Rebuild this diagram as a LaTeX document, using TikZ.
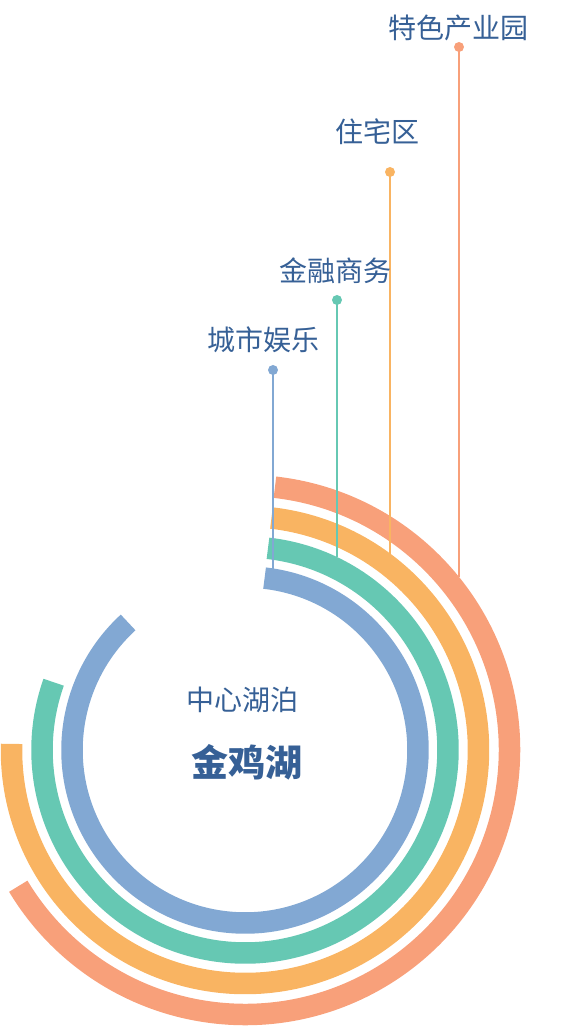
\documentclass[tikz,border=0pt]{standalone}
\usepackage{fontspec}
\newfontfamily\cjk{Noto Sans CJK SC}
\usetikzlibrary{positioning}
\definecolor{ring_blue}{HTML}{82A8D3}
\definecolor{ring_green}{HTML}{66C8B3}
\definecolor{ring_orange}{HTML}{F9B462}
\definecolor{ring_salmon}{HTML}{F8A07A}
\definecolor{label_blue}{RGB}{54,96,150}
\tikzset{
  ring/.style = {line width=21.5pt, line cap=butt},% anneau
  pin_line/.style = {line width=1.6pt},% trait vertical
  pin_dot/.style = {circle, inner sep=0pt, minimum size=10pt},% pastille
  tag/.style = {font=\cjk\fontsize{28}{32}\selectfont, text=label_blue,
    inner sep=0pt},% etiquette
  lake/.style = {font=\cjk\fontsize{28}{32}\selectfont, text=label_blue,
    inner sep=0pt},
  lake_name/.style = {font=\cjk\bfseries\fontsize{37}{40}\selectfont,
    text=label_blue, inner sep=0pt}
}

\begin{document}
\begin{tikzpicture}[x=1pt, y=1pt]
  \useasboundingbox (-245,-278) rectangle (318,750);
  % anneaux
  \draw [ring, ring_salmon] (83.5:264.5) arc[start angle=83.5, end angle=-149, radius=264.5];
  \draw [ring, ring_orange] (83.5:233.5) arc[start angle=83.5, end angle=-181.5, radius=233.5];
  \draw [ring, ring_green] (83.5:203) arc[start angle=83.5, end angle=-199.5, radius=203];
  \draw [ring, ring_blue] (83.5:173) arc[start angle=83.5, end angle=-227.5, radius=173];
  % extremites sur le bord des anneaux
  \coordinate (blue_end) at (28,180.85);
  \coordinate (green_end) at (92,192.66);
  \coordinate (orange_end) at (145,196.24);
  \coordinate (salmon_end) at (214,172.71);
  % pastilles
  \node [pin_dot, fill=ring_blue] (blue_dot) at (28,380) {};
  \node [pin_dot, fill=ring_green] (green_dot) at (92,450) {};
  \node [pin_dot, fill=ring_orange] (orange_dot) at (145,578) {};
  \node [pin_dot, fill=ring_salmon] (salmon_dot) at (214,703) {};
  \draw [pin_line, ring_blue] (blue_dot.center) -- (blue_end);
  \draw [pin_line, ring_green] (green_dot.center) -- (green_end);
  \draw [pin_line, ring_orange] (orange_dot.center) -- (orange_end);
  \draw [pin_line, ring_salmon] (salmon_dot.center) -- (salmon_end);
  % etiquettes
  \node [tag] (leisure) at (19,410) {城市娱乐};
  \node [tag] (finance) at (90,479) {金融商务};
  \node [tag] (housing) at (132.5,618) {住宅区};
  \node [tag] (industry) at (213,722) {特色产业园};
  \node [lake] (lake) at (-2,50) {中心湖泊};
  \node [lake_name] (jinji) at (2.5,-12) {金鸡湖};
\end{tikzpicture}
\end{document}
